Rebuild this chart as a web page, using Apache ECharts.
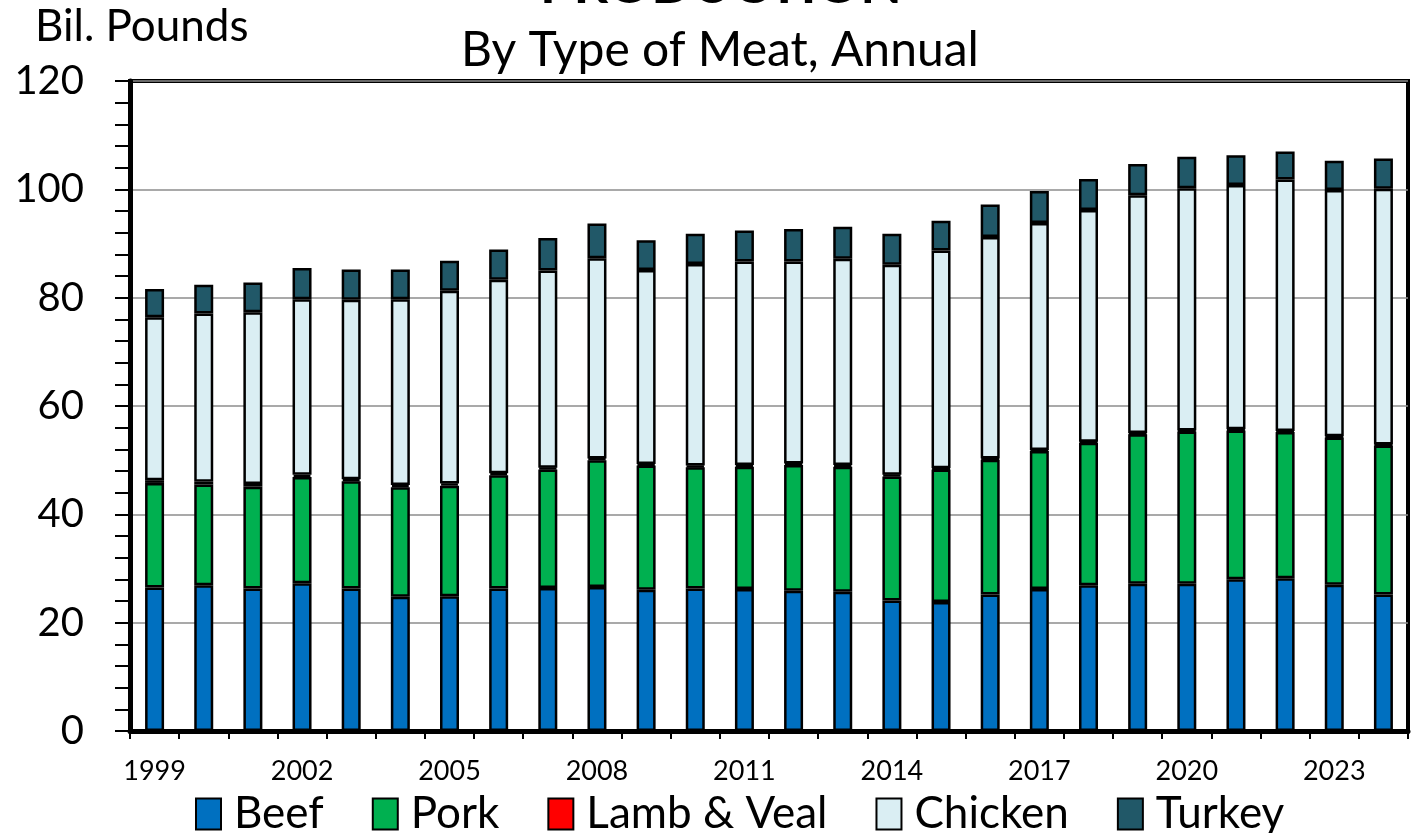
<!DOCTYPE html>
<html>
<head>
<meta charset="utf-8">
<script src="https://cdn.jsdelivr.net/npm/echarts@6/dist/echarts.min.js"></script>
<style>
  html, body { margin: 0; padding: 0; background: #fff; }
  #chart { width: 1415px; height: 833px; }
</style>
</head>
<body>
<div id="chart"></div>
<script>
const years = ['1999', '2000', '2001', '2002', '2003', '2004', '2005', '2006', '2007', '2008', '2009', '2010', '2011',
    '2012', '2013', '2014', '2015', '2016', '2017', '2018', '2019', '2020', '2021', '2022', '2023', '2024'];

// billion pounds
const beef = [26.5, 26.9, 26.3, 27.3, 26.3, 24.8, 24.9, 26.3, 26.4, 26.6, 26.1, 26.3, 26.2,
    25.9, 25.7, 24.1, 23.8, 25.2, 26.2, 26.9, 27.2, 27.2, 28.0, 28.2, 27.0, 25.2];
const pork = [19.3, 18.6, 18.8, 19.6, 19.8, 20.2, 20.4, 20.9, 21.9, 23.4, 22.9, 22.4, 22.6,
    23.2, 23.1, 22.9, 24.5, 24.9, 25.5, 26.3, 27.6, 28.1, 27.5, 27.0, 27.2, 27.5];
const lambVeal = [0.5, 0.5, 0.5, 0.4, 0.4, 0.4, 0.4, 0.4, 0.3, 0.3, 0.3, 0.3, 0.3,
    0.3, 0.3, 0.3, 0.2, 0.2, 0.2, 0.2, 0.2, 0.2, 0.2, 0.2, 0.2, 0.2];
const chicken = [30.1, 31.1, 31.7, 32.4, 33.1, 34.3, 35.6, 35.7, 36.4, 37.0, 35.8, 37.2, 37.6,
    37.3, 38.1, 38.8, 40.2, 40.9, 41.9, 42.8, 43.9, 44.7, 45.1, 46.4, 45.5, 47.2];
const turkey = [5.2, 5.3, 5.5, 5.8, 5.6, 5.5, 5.5, 5.6, 6.0, 6.4, 5.5, 5.6, 5.7,
    6.0, 5.9, 5.7, 5.5, 6.0, 5.9, 5.7, 5.8, 5.8, 5.5, 5.2, 5.4, 5.6];

const font = 'Lato';
let chart = echarts.init(document.getElementById('chart'));

function barSeries(name, data, color) {
    return {
        name: name,
        type: 'bar',
        stack: 'meat',
        barWidth: 19,
        data: data,
        itemStyle: {
            color: color,
            borderColor: '#000',
            borderWidth: 2.5
        }
    };
}

let option = {
    animation: false,
    backgroundColor: '#fff',
    textStyle: { fontFamily: font, color: '#000' },
    graphic: [
        {
            type: 'text', left: 540, top: -41,
            style: { text: 'PRODUCTION', font: 'bold 54px Lato', fill: '#000' }
        },
        {
            type: 'text', x: 720, y: 51,
            style: { text: 'By Type of Meat, Annual', font: '48px Lato', fill: '#000', align: 'center', verticalAlign: 'middle' }
        },
        {
            type: 'text', x: 35, y: 27,
            style: { text: 'Bil. Pounds', font: '44px Lato', fill: '#000', align: 'left', verticalAlign: 'middle' }
        }
    ],
    grid: {
        left: 130,
        right: 7,
        top: 81,
        bottom: 102,
        show: true,
        borderColor: '#000',
        borderWidth: 4
    },
    legend: {
        left: 190,
        top: 787,
        itemWidth: 25,
        itemHeight: 31,
        itemGap: 48,
        icon: 'rect',
        textStyle: { fontSize: 44, fontFamily: font, color: '#000', padding: [0, 0, 0, 8] },
        data: ['Beef', 'Pork', 'Lamb & Veal', 'Chicken', 'Turkey']
    },
    xAxis: {
        type: 'category',
        data: years,
        axisLine: { lineStyle: { color: '#000', width: 5 } },
        axisTick: { show: true, interval: 0, length: 8, lineStyle: { color: '#000', width: 2 } },
        axisLabel: { interval: 2, fontSize: 27, fontFamily: font, color: '#000', margin: 27 }
    },
    yAxis: {
        type: 'value',
        min: 0,
        max: 120,
        interval: 20,
        axisLine: { show: true, lineStyle: { color: '#000', width: 5 } },
        axisTick: { show: true, length: 15, lineStyle: { color: '#000', width: 2 } },
        minorTick: { show: true, splitNumber: 5, length: 15, lineStyle: { color: '#000', width: 2 } },
        axisLabel: { fontSize: 40, fontFamily: font, color: '#000', margin: 46 },
        splitLine: { lineStyle: { color: '#8c8c8c', width: 1.5 } }
    },
    series: [
        barSeries('Beef', beef, '#0070C0'),
        barSeries('Pork', pork, '#00B050'),
        barSeries('Lamb & Veal', lambVeal, '#FF0000'),
        barSeries('Chicken', chicken, '#DAEEF3'),
        barSeries('Turkey', turkey, '#215868')
    ]
};

chart.setOption(option);
</script>
</body>
</html>
